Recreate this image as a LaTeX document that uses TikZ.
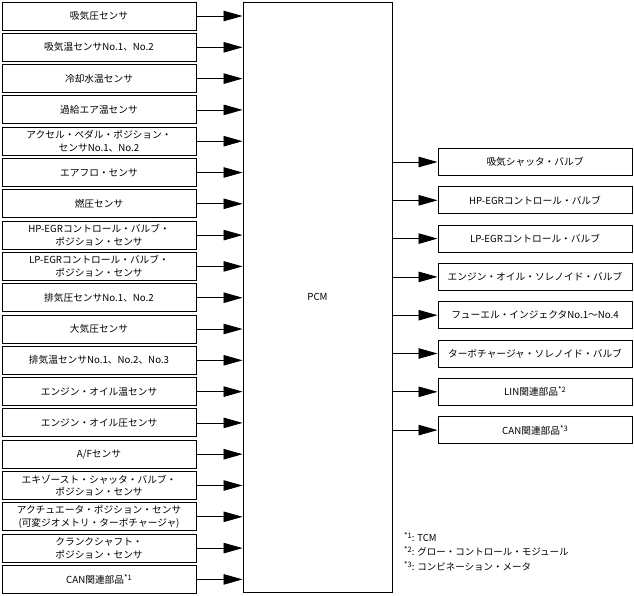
\documentclass[tikz,border=0pt]{standalone}
\usepackage{fontspec}
\setmainfont{Noto Sans CJK JP}
\usetikzlibrary{positioning,arrows.meta}
\newcommand{\noteref}[1]{\raisebox{3pt}{\fontsize{7.5}{7.5}\selectfont *#1}}

\begin{document}
\begin{tikzpicture}[
    x=1pt, y=-1pt,
    node distance=2.3pt,
    inbox/.style={rectangle, draw=black, line width=1pt, minimum width=194pt, minimum height=28pt, inner sep=1pt, align=center, font=\fontsize{9.7}{12.7}\selectfont},
    outbox/.style={inbox, minimum height=27pt},
    arrow/.style={-{Triangle[length=19pt,width=10.5pt]}, line width=0.8pt, black},
]
    \useasboundingbox (0,0) rectangle (634,595);

    % Sensors (inputs)
    \node[inbox] (s1) at (99,16) {吸気圧センサ};
    \node[inbox, below=of s1] (s2) {吸気温センサNo.1、No.2};
    \node[inbox, below=of s2] (s3) {冷却水温センサ};
    \node[inbox, below=of s3] (s4) {過給エア温センサ};
    \node[inbox, below=of s4] (s5) {アクセル・ペダル・ポジション・\\センサNo.1、No.2};
    \node[inbox, below=of s5] (s6) {エアフロ・センサ};
    \node[inbox, below=of s6] (s7) {燃圧センサ};
    \node[inbox, below=of s7] (s8) {HP-EGRコントロール・バルブ・\\ポジション・センサ};
    \node[inbox, below=of s8] (s9) {LP-EGRコントロール・バルブ・\\ポジション・センサ};
    \node[inbox, below=of s9] (s10) {排気圧センサNo.1、No.2};
    \node[inbox, below=of s10] (s11) {大気圧センサ};
    \node[inbox, below=of s11] (s12) {排気温センサNo.1、No.2、No.3};
    \node[inbox, below=of s12] (s13) {エンジン・オイル温センサ};
    \node[inbox, below=of s13] (s14) {エンジン・オイル圧センサ};
    \node[inbox, below=of s14] (s15) {A/Fセンサ};
    \node[inbox, below=of s15] (s16) {エキゾースト・シャッタ・バルブ・\\ポジション・センサ};
    \node[inbox, below=of s16] (s17) {アクチュエータ・ポジション・センサ\\(可変ジオメトリ・ターボチャージャ)};
    \node[inbox, below=of s17] (s18) {クランクシャフト・\\ポジション・センサ};
    \node[inbox, below=of s18] (s19) {CAN関連部品\noteref{1}};

    % Control module
    \node[rectangle, draw=black, line width=1pt, minimum width=149pt, minimum height=590pt, font=\fontsize{9.7}{12.7}\selectfont] (pcm) at (317.5,297) {PCM};

    % Actuators (outputs)
    \node[outbox, node distance=10.3pt] (a1) at (535,162) {吸気シャッタ・バルブ};
    \node[outbox, node distance=10.3pt, below=of a1] (a2) {HP-EGRコントロール・バルブ};
    \node[outbox, node distance=10.3pt, below=of a2] (a3) {LP-EGRコントロール・バルブ};
    \node[outbox, node distance=10.3pt, below=of a3] (a4) {エンジン・オイル・ソレノイド・バルブ};
    \node[outbox, node distance=10.3pt, below=of a4] (a5) {フューエル・インジェクタNo.1〜No.4};
    \node[outbox, node distance=10.3pt, below=of a5] (a6) {ターボチャージャ・ソレノイド・バルブ};
    \node[outbox, node distance=10.3pt, below=of a6] (a7) {LIN関連部品\noteref{2}};
    \node[outbox, node distance=10.3pt, below=of a7] (a8) {CAN関連部品\noteref{3}};

    % Arrows into PCM
    \draw[arrow] (s1.east) -- (s1.east -| pcm.west);
    \draw[arrow] (s2.east) -- (s2.east -| pcm.west);
    \draw[arrow] (s3.east) -- (s3.east -| pcm.west);
    \draw[arrow] (s4.east) -- (s4.east -| pcm.west);
    \draw[arrow] (s5.east) -- (s5.east -| pcm.west);
    \draw[arrow] (s6.east) -- (s6.east -| pcm.west);
    \draw[arrow] (s7.east) -- (s7.east -| pcm.west);
    \draw[arrow] (s8.east) -- (s8.east -| pcm.west);
    \draw[arrow] (s9.east) -- (s9.east -| pcm.west);
    \draw[arrow] (s10.east) -- (s10.east -| pcm.west);
    \draw[arrow] (s11.east) -- (s11.east -| pcm.west);
    \draw[arrow] (s12.east) -- (s12.east -| pcm.west);
    \draw[arrow] (s13.east) -- (s13.east -| pcm.west);
    \draw[arrow] (s14.east) -- (s14.east -| pcm.west);
    \draw[arrow] (s15.east) -- (s15.east -| pcm.west);
    \draw[arrow] (s16.east) -- (s16.east -| pcm.west);
    \draw[arrow] (s17.east) -- (s17.east -| pcm.west);
    \draw[arrow] (s18.east) -- (s18.east -| pcm.west);
    \draw[arrow] (s19.east) -- (s19.east -| pcm.west);

    % Arrows out of PCM
    \draw[arrow] (a1.west -| pcm.east) -- (a1.west);
    \draw[arrow] (a2.west -| pcm.east) -- (a2.west);
    \draw[arrow] (a3.west -| pcm.east) -- (a3.west);
    \draw[arrow] (a4.west -| pcm.east) -- (a4.west);
    \draw[arrow] (a5.west -| pcm.east) -- (a5.west);
    \draw[arrow] (a6.west -| pcm.east) -- (a6.west);
    \draw[arrow] (a7.west -| pcm.east) -- (a7.west);
    \draw[arrow] (a8.west -| pcm.east) -- (a8.west);

    % Notes
    \node[anchor=north west, align=left, inner sep=0pt, font=\fontsize{9.5}{14.5}\selectfont] (notes) at (404,532) {\noteref{1}: TCM\\\noteref{2}: グロー・コントロール・モジュール\\\noteref{3}: コンビネーション・メータ};
\end{tikzpicture}
\end{document}
